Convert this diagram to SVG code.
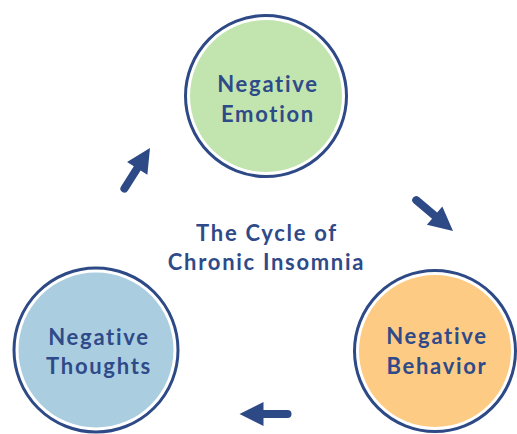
<svg xmlns="http://www.w3.org/2000/svg" width="517" height="434" viewBox="0 0 517 434">
  <style>
    .ring { fill: #ffffff; stroke: #2e4a86; stroke-width: 3; }
    .label { font-family: "Lato", "Open Sans", sans-serif; font-weight: 700; font-size: 22px; letter-spacing: 1.7px; fill: #2f4a88; text-anchor: middle; }
    .arrow { fill: #2e4a86; }
  </style>
  <defs>
    <!-- block arrow, tip at origin pointing +x -->
    <path id="arrowShape" d="M -48,-4 L -24,-4 L -24,-12 L 0,0 L -24,12 L -24,4 L -48,4 A 4 4 0 0 1 -48,-4 Z"/>
  </defs>
  <rect width="517" height="434" fill="#ffffff"/>

  <g id="negative-emotion">
    <circle class="ring" cx="266" cy="96" r="80.5"/>
    <circle cx="266" cy="96" r="76" fill="#c2e5b0"/>
    <text class="label" x="268" y="92">Negative</text>
    <text class="label" x="268" y="122">Emotion</text>
  </g>

  <g id="negative-behavior">
    <circle class="ring" cx="435" cy="351" r="80.5"/>
    <circle cx="435" cy="351" r="76" fill="#fdcb84"/>
    <text class="label" x="437" y="344">Negative</text>
    <text class="label" x="437" y="374">Behavior</text>
  </g>

  <g id="negative-thoughts">
    <circle class="ring" cx="96" cy="350" r="82"/>
    <circle cx="96" cy="350" r="77.5" fill="#abcde0"/>
    <text class="label" x="99" y="345">Negative</text>
    <text class="label" x="99" y="374">Thoughts</text>
  </g>

  <g id="title">
    <text class="label" x="267" y="241">The Cycle of</text>
    <text class="label" x="266.5" y="270">Chronic Insomnia</text>
  </g>

  <g id="connectors" class="arrow">
    <use href="#arrowShape" transform="translate(150,148) rotate(-57.8)"/>
    <use href="#arrowShape" transform="translate(453,231) rotate(40)"/>
    <use href="#arrowShape" transform="translate(239.5,414) rotate(180)"/>
  </g>
</svg>
